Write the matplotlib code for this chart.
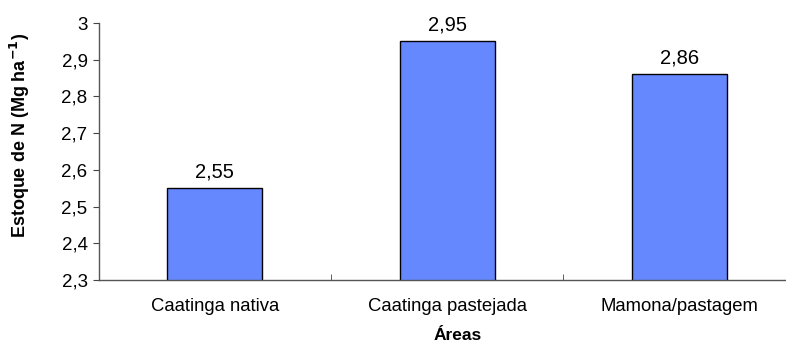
import numpy as np
import matplotlib.pyplot as plt
from matplotlib.ticker import FixedLocator, FuncFormatter

plt.rcParams["font.family"] = ["Liberation Sans", "DejaVu Sans"]

areas = ["Caatinga nativa", "Caatinga pastejada", "Mamona/pastagem"]
estoque_n = [2.55, 2.95, 2.86]
value_labels = ["2,55", "2,95", "2,86"]

fig = plt.figure(figsize=(7.86, 3.45), dpi=100)
ax = fig.add_axes([98.7 / 786, 65 / 345, 697 / 786, 257 / 345])

x = np.arange(len(areas))
ax.bar(x, estoque_n, width=0.41, bottom=0, color="#6688ff",
       edgecolor="black", linewidth=1.0, zorder=2)

for xi, v, lab in zip(x, estoque_n, value_labels):
    ax.annotate(lab, (xi, v), xytext=(0, 5), textcoords="offset points",
                ha="center", va="bottom", fontsize=14.5)

ax.set_xlim(-0.5, 2.5)
ax.set_ylim(2.3, 3.0)
ax.set_yticks(np.arange(2.3, 3.01, 0.1))
ax.yaxis.set_major_formatter(FuncFormatter(lambda v, p: f"{v:.1f}".replace(".", ",").replace(",0", "")))

ax.set_xticks(x)
ax.set_xticklabels(areas, fontsize=13.3)
ax.xaxis.set_minor_locator(FixedLocator([0.5, 1.5, 2.5]))
ax.tick_params(axis="x", which="major", length=0, pad=13)
ax.tick_params(axis="x", which="minor", direction="in", length=4, color="#444444")
ax.tick_params(axis="y", direction="out", length=4, labelsize=13.5, color="#444444", pad=4)

for side in ("top", "right"):
    ax.spines[side].set_visible(False)
for side in ("left", "bottom"):
    ax.spines[side].set_color("#555555")
    ax.spines[side].set_linewidth(1.0)

fig.text(20 / 786, 1 - 135 / 345, r"Estoque de N (Mg ha$^{\mathbf{-1}}$)",
         rotation=90, ha="center", va="center", fontsize=13, fontweight="bold")
fig.text(458 / 786, 1 - 336 / 345, "Áreas", ha="center", va="center",
         fontsize=12.5, fontweight="bold")

fig.savefig("out.png", dpi=100)
